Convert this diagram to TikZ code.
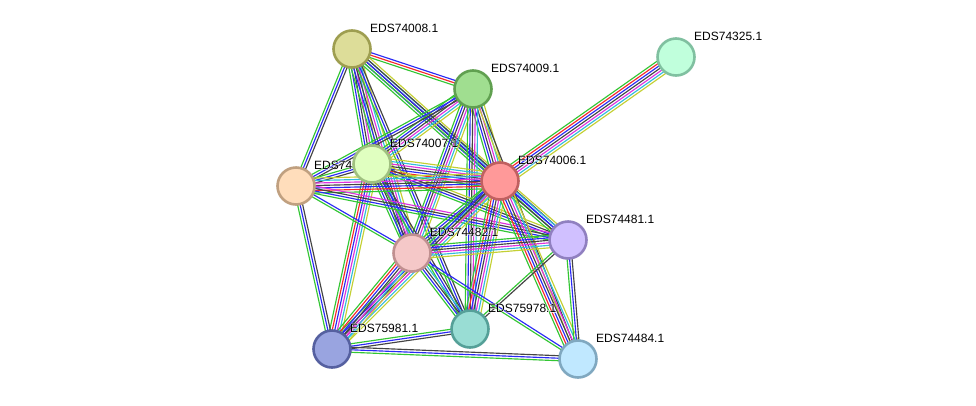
\documentclass[tikz,border=0pt]{standalone}
\usepackage{fontspec}
\setmainfont{Liberation Sans}
\newfontfamily\halofont{Liberation Sans}[FakeBold=6]
\usetikzlibrary{calc}
\pgfdeclarelayer{bgfill}
\pgfdeclarelayer{edges}
\pgfdeclarelayer{labels}
\pgfsetlayers{bgfill,edges,labels,main}
\definecolor{sg}{HTML}{33C633}
\definecolor{sr}{HTML}{F52A2A}
\definecolor{sb}{HTML}{2A2AF5}
\definecolor{sk}{HTML}{444444}
\definecolor{sm}{HTML}{DD33DD}
\definecolor{sc}{HTML}{33BBDD}
\definecolor{sy}{HTML}{C4D033}
\tikzset{
  prot/.style={circle, minimum size=37pt, inner sep=0pt, line width=2.6pt},
  lbl/.style={anchor=west, inner sep=0pt, font=\fontsize{12}{14}\selectfont},
  ln/.style={line width=1.15pt},
}
\newcommand{\bund}[3]{%
  \foreach \col [count=\i] in {#3} {\xdef\nbund{\i}}%
  \foreach \col [count=\i] in {#3} {%
    \pgfmathsetmacro\off{(\i-(\nbund+1)/2)*2.5}%
    \draw[ln,s\col] ($(#1)!\off pt!90:(#2)$) -- ($(#2)!\off pt!-90:(#1)$);%
  }%
}
\newcommand{\plab}[2]{%
  \node[lbl,text=white] (#1h) at ($(#1)+(18,-21)$) {\halofont #2};%
  \node[lbl] (#1l) at ($(#1)+(18,-21)$) {#2};%
}
\begin{document}
\begin{tikzpicture}[x=1pt,y=-1pt]
\useasboundingbox (0,0) rectangle (976,405);
\begin{pgfonlayer}{bgfill}
\fill[white] (0,0) rectangle (976,405);
\end{pgfonlayer}
% nodes
\node[prot, fill={rgb,255:red,221;green,221;blue,153}, draw={rgb,255:red,158;green,158;blue,80}] (A) at (352,49) {};
\node[prot, fill={rgb,255:red,160;green,222;blue,144}, draw={rgb,255:red,96;green,160;blue,80}] (B) at (473,89) {};
\node[prot, fill={rgb,255:red,192;green,255;blue,220}, draw={rgb,255:red,128;green,192;blue,160}] (C) at (676,57) {};
\node[prot, fill={rgb,255:red,224;green,255;blue,192}, draw={rgb,255:red,160;green,192;blue,128}] (D) at (372,164) {};
\node[prot, fill={rgb,255:red,255;green,221;blue,187}, draw={rgb,255:red,192;green,160;blue,128}] (L) at (296,186) {};
\node[prot, fill={rgb,255:red,255;green,153;blue,153}, draw={rgb,255:red,192;green,96;blue,96}] (E) at (500,181) {};
\node[prot, fill={rgb,255:red,208;green,192;blue,255}, draw={rgb,255:red,144;green,128;blue,192}] (F) at (568,240) {};
\node[prot, fill={rgb,255:red,245;green,200;blue,200}, draw={rgb,255:red,192;green,144;blue,144}] (G) at (412,253) {};
\node[prot, fill={rgb,255:red,153;green,221;blue,212}, draw={rgb,255:red,85;green,160;blue,152}] (H) at (470,329) {};
\node[prot, fill={rgb,255:red,153;green,164;blue,224}, draw={rgb,255:red,85;green,96;blue,160}] (I) at (332,349) {};
\node[prot, fill={rgb,255:red,192;green,232;blue,255}, draw={rgb,255:red,128;green,168;blue,192}] (J) at (578,359) {};
% edges
\begin{pgfonlayer}{edges}
\bund{A}{B}{g,r,b}
\bund{A}{L}{g,b,k}
\bund{A}{D}{g,b,k,m,c,y}
\bund{A}{G}{g,b,k,m,c,y}
\bund{A}{H}{g,b,k}
\bund{A}{E}{g,b,k,c,y}
\bund{A}{F}{g,b,k}
\bund{B}{D}{g,b,k,m,c,y}
\bund{B}{L}{g,b,k}
\bund{B}{E}{g,b,k,m,c,y}
\bund{B}{G}{g,b,k,m,c,y}
\bund{B}{H}{g,b,k,m,c}
\bund{B}{J}{y,k}
\bund{C}{E}{g,r,b,k,m,c,y}
\bund{D}{L}{g,b,k}
\bund{D}{E}{g,r,b,k,m,c,y}
\bund{D}{G}{g,b,k,m,c}
\bund{D}{H}{g,b,k}
\bund{D}{I}{g,r,b,m,c,y}
\bund{D}{F}{g,b,k,y}
\bund{L}{E}{g,r,b,k,m,c,y}
\bund{L}{F}{g,b,k,m}
\bund{L}{G}{g,b}
\bund{L}{I}{g,b,k}
\bund{E}{F}{g,k,b,c,y}
\bund{E}{G}{g,b,k,c,y}
\bund{E}{H}{g,r,b,k,m,c,y}
\bund{E}{I}{g,b,k,m,c,y}
\bund{E}{J}{g,r,b,k,m,c,y}
\bund{F}{G}{g,b,k,m,c,y}
\bund{F}{H}{g,k}
\bund{F}{J}{g,b,k}
\bund{G}{H}{g,b,k,c}
\bund{G}{I}{g,r,b,k,m,c,y}
\bund{G}{J}{g,b}
\bund{H}{I}{g,b,k}
\bund{I}{J}{g,b,k}
\end{pgfonlayer}
% labels
\begin{pgfonlayer}{labels}
\plab{A}{EDS74008.1}
\plab{B}{EDS74009.1}
\plab{C}{EDS74325.1}
\plab{L}{EDS74}
\plab{D}{EDS74007.1}
\plab{E}{EDS74006.1}
\plab{F}{EDS74481.1}
\plab{G}{EDS74482.1}
\plab{H}{EDS75978.1}
\plab{I}{EDS75981.1}
\plab{J}{EDS74484.1}
\end{pgfonlayer}
\end{tikzpicture}
\end{document}
